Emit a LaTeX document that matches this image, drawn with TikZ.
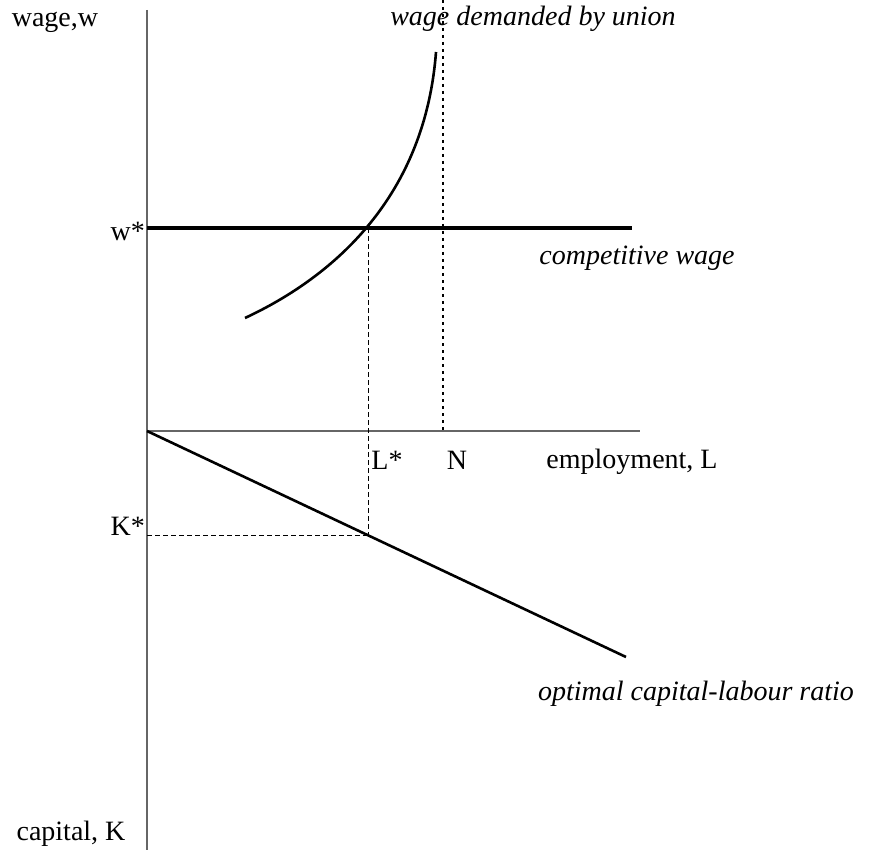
\documentclass[tikz,border=0pt]{standalone}
\usepackage{fontspec}
\setmainfont{Liberation Serif}
\usetikzlibrary{positioning}

\begin{document}
\begin{tikzpicture}[x=1pt, y=-1pt,
    axis/.style={draw=black!60, line width=1.3pt},
    curve/.style={line width=2.6pt},
    guide/.style={line width=0.9pt, dash pattern=on 5pt off 3pt},
    lbl/.style={font=\fontsize{28}{32}\selectfont, inner sep=0pt},
    ilbl/.style={font=\fontsize{28}{32}\selectfont\itshape, inner sep=0pt}
]
    \useasboundingbox (0,0) rectangle (880,850);

    % Points
    \coordinate (wtop) at (147,10);
    \coordinate (kbot) at (147,850);
    \coordinate (O) at (147,431);
    \coordinate (Lend) at (640,431);
    \coordinate (wstar) at (147,228);
    \coordinate (wend) at (632,228);
    \coordinate (Ntop) at (443,0);
    \coordinate (Nbot) at (443,431);
    \coordinate (Lw) at (368,228);
    \coordinate (LK) at (368,535);
    \coordinate (Kstar) at (147,535);
    \coordinate (Kend) at (626,657);
    \coordinate (ustart) at (245,318);
    \coordinate (uend) at (436,52);

    % Axes
    \draw[axis] (wtop) -- (kbot);
    \draw[axis] (O) -- (Lend);

    % Curves
    \draw[line width=4pt] (wstar) -- (wend);
    \draw[curve] (ustart) .. controls (335,276) and (425,196) .. (uend);
    \draw[curve] (O) -- (Kend);

    % Guides
    \draw[line width=2pt, dash pattern=on 3pt off 4pt] (Ntop) -- (Nbot);
    \draw[guide] (Lw) -- (LK);
    \draw[guide] (Kstar) -- (LK);

    % Labels
    \node[lbl] (wagew) at (55,22) {wage,w};
    \node[lbl, anchor=east] (wlab) at (145,231) {w*};
    \node[ilbl] (comp) at (637,258) {competitive wage};
    \node[ilbl] (union) at (533,19) {wage demanded by union};
    \node[lbl] (Llab) at (387,460) {L*};
    \node[lbl] (Nlab) at (457,460) {N};
    \node[lbl] (emp) at (632,462) {employment, L};
    \node[lbl, anchor=east] (Klab) at (145,526) {K*};
    \node[ilbl] (ratio) at (696,694) {optimal capital-labour ratio};
    \node[lbl] (capK) at (71,834) {capital, K};
\end{tikzpicture}
\end{document}
